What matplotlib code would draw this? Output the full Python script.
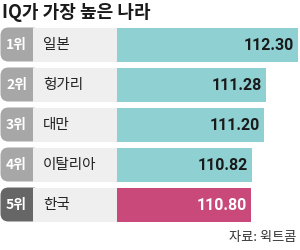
import matplotlib
matplotlib.use("Agg")
import matplotlib.pyplot as plt
from matplotlib.patches import FancyBboxPatch, Rectangle

plt.rcParams['font.family'] = ['Noto Sans CJK KR', 'DejaVu Sans']

# 데이터
순위 = ['1위', '2위', '3위', '4위', '5위']
나라 = ['일본', '헝가리', '대만', '이탈리아', '한국']
iq = [112.30, 111.28, 111.20, 110.82, 110.80]
값_라벨 = ['112.30', '111.28', '111.20', '110.82', '110.80']

bar_c = ['#8fd0d3', '#8fd0d3', '#8fd0d3', '#8fd0d3', '#c8497a']
badge_c = ['#a7a7a7', '#a7a7a7', '#a7a7a7', '#a7a7a7', '#666666']
val_c = ['#1a1a1a', '#1a1a1a', '#1a1a1a', '#1a1a1a', '#ffffff']

W, H = 300, 250
fig = plt.figure(figsize=(3, 2.5), dpi=100)
fig.patch.set_facecolor('white')

ybot = 1 - 224.5 / H
yh = 200 / H
bh = 0.85

# 왼쪽: 순위 + 나라 이름
axl = fig.add_axes([0, ybot, 117 / W, yh])
axl.set_xlim(0, 117)
axl.set_ylim(4.5, -0.5)
axl.axis('off')
for i in range(len(나라)):
    axl.add_patch(FancyBboxPatch((0.5, i - bh / 2), 40, bh,
                                 boxstyle='round,pad=0,rounding_size=8',
                                 mutation_aspect=0.025,
                                 fc=badge_c[i], ec='none'))
    axl.add_patch(Rectangle((33, i - bh / 2), 84, bh, fc='#efefef', ec='none'))
    axl.text(16.5, i + 0.02, 순위[i], color='white', fontsize=10,
             fontweight='bold', ha='center', va='center')
    axl.text(43, i + 0.02, 나라[i], color='#222222', fontsize=10.5,
             ha='left', va='center')

# 오른쪽: 막대
ax = fig.add_axes([117 / W, ybot, 183 / W, yh])
ax.barh(range(len(iq)), iq, height=bh, color=bar_c)
ax.set_xlim(106.5, 112.36)
ax.set_ylim(4.5, -0.5)
ax.axis('off')
for i, v in enumerate(iq):
    ax.text(v - 0.13, i + 0.03, 값_라벨[i], color=val_c[i], fontsize=11.5,
            fontweight='bold', ha='right', va='center',
            family=['Roboto', 'DejaVu Sans'])

fig.text(2 / W, 1 - 13 / H, 'IQ가 가장 높은 나라', fontsize=13,
         fontweight='bold', color='#1a1a1a', ha='left', va='center')
fig.text(296 / W, 1 - 238 / H, '자료: 윅트콤', fontsize=9.5,
         color='#333333', ha='right', va='center')

fig.savefig('out.png', dpi=100)
